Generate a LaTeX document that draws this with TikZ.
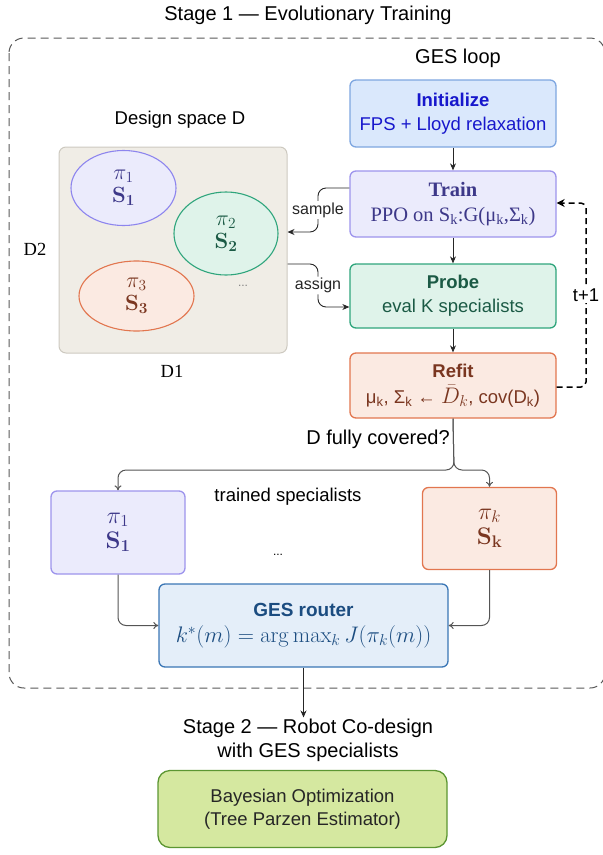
\RequirePackage{fix-cm}
\documentclass[tikz,border=0pt]{standalone}
\usepackage[no-math]{fontspec}
\usepackage{amsmath}
\setmainfont{Liberation Sans}
\newfontfamily\serfont{Liberation Serif}
\usetikzlibrary{arrows.meta,shapes.geometric,calc}

% palette
\definecolor{initfill}{HTML}{DAE8FC}
\definecolor{initdraw}{HTML}{7EA6E0}
\definecolor{inittext}{HTML}{1717CC}
\definecolor{trainfill}{HTML}{EBEBFC}
\definecolor{traindraw}{HTML}{9D94EC}
\definecolor{traintext}{HTML}{3D3889}
\definecolor{probefill}{HTML}{DFF3EA}
\definecolor{probedraw}{HTML}{2FA57C}
\definecolor{probetext}{HTML}{1B5A45}
\definecolor{refitfill}{HTML}{FBEAE2}
\definecolor{refitdraw}{HTML}{E2764F}
\definecolor{refittext}{HTML}{7A3620}
\definecolor{spacefill}{HTML}{F0EDE6}
\definecolor{spacedraw}{HTML}{CDC9C0}
\definecolor{routerfill}{HTML}{E4EEF9}
\definecolor{routerdraw}{HTML}{3A76B5}
\definecolor{routertext}{HTML}{1B4C80}
\definecolor{bayesfill}{HTML}{D5E8A0}
\definecolor{bayesdraw}{HTML}{5C9632}
\definecolor{linegray}{HTML}{555555}

% larger math inside text lines
\newcommand{\bigmath}[1]{{\fontsize{22.5}{24}\selectfont$#1$}}

\tikzset{
    txt/.style={font=\fontsize{18.5}{24}\selectfont, inner sep=1pt},
    title/.style={font=\fontsize{20}{25}\selectfont, align=center, inner sep=1pt},
    small/.style={font=\fontsize{16}{20}\selectfont, fill=white, inner sep=1.5pt},
    box/.style={draw, rounded corners=6pt, line width=1.3pt, minimum width=206pt,
        minimum height=66pt, align=center, font=\fontsize{18.5}{24}\selectfont},
    spec/.style={draw, rounded corners=6pt, line width=1.3pt, minimum width=134pt,
        minimum height=82pt, align=center, font=\fontsize{24}{25}\selectfont},
    blob/.style={ellipse, draw, line width=1.1pt, inner sep=0pt, align=center,
        font=\fontsize{22}{23}\selectfont},
    flow/.style={-{Stealth[length=7pt,width=6pt]}, line width=0.9pt, black!85},
    branch/.style={-{To[length=5pt,width=7pt]}, line width=1pt, linegray, rounded corners=8pt},
}

\begin{document}
\begin{tikzpicture}[x=1pt,y=-1pt]
    \useasboundingbox (0,0) rectangle (603,855);

    % Stage 1 frame
    \node[title] (stageone) at (308,15) {Stage 1 — Evolutionary Training};
    \draw[line width=1pt, black!65, dash pattern=on 8pt off 5pt, rounded corners=15pt]
        (9,38) rectangle (605,688);
    \node[title] (loop) at (458,58) {GES loop};

    % GES loop
    \node[box, fill=initfill, draw=initdraw, text=inittext, minimum height=67pt]
        (init) at (453,113.5) {\textbf{Initialize}\\FPS + Lloyd relaxation};
    \node[box, fill=trainfill, draw=traindraw, text=traintext,
        font=\serfont\fontsize{20.5}{25}\selectfont]
        (train) at (453,204) {\textbf{Train}\\PPO on S\textsubscript{k}:G(μ\textsubscript{k},Σ\textsubscript{k})};
    \node[box, fill=probefill, draw=probedraw, text=probetext, minimum height=64pt]
        (probe) at (453,296) {\textbf{Probe}\\eval K specialists};
    \node[box, fill=refitfill, draw=refitdraw, text=refittext, minimum height=65pt,
        font=\fontsize{18.5}{26}\selectfont]
        (refit) at (453,385.5) {\textbf{Refit}\\μ\textsubscript{k}, Σ\textsubscript{k} ← \smash{\bigmath{\bar{D}_k}}, cov(D\textsubscript{k})};
    \foreach \a/\b in {init/train, train/probe, probe/refit}
        \draw[flow] (\a) -- (\b);

    % loop back
    \draw[line width=1.5pt, dash pattern=on 6pt off 4pt, -{Stealth[length=8pt,width=8pt]}, rounded corners=5pt]
        ([yshift=-1.5pt]refit.east) -- (586,387) -- (586,203)
        node[pos=0.5, small, font=\fontsize{18.5}{22}\selectfont] (tnext) {t+1}
        -- ([yshift=1pt]train.east);

    % Design space
    \node[txt] (spacetitle) at (180,120) {Design space D};
    \node[draw=spacedraw, fill=spacefill, line width=1pt, rounded corners=7pt,
        minimum width=228pt, minimum height=206pt] (space) at (173,250) {};
    \node[txt, font=\serfont\fontsize{18.5}{22}\selectfont] (dtwo) at (35,249) {D2};
    \node[txt, font=\serfont\fontsize{18.5}{22}\selectfont] (done) at (172,371) {D1};
    \node[blob, fill=trainfill, draw=traindraw!90!blue, text=traintext,
        minimum width=105pt, minimum height=75pt] (pione) at (123.5,188) {$\pi_1$\\$\mathbf{S_1}$};
    \node[blob, fill=probefill, draw=probedraw, text=probetext,
        minimum width=104pt, minimum height=83pt] (pitwo) at (226,233.5) {$\pi_2$\\$\mathbf{S_2}$};
    \node[blob, fill=refitfill, draw=refitdraw, text=refittext,
        minimum width=115pt, minimum height=70pt] (pithree) at (136.5,296) {$\pi_3$\\$\mathbf{S_3}$};
    \node[font=\fontsize{12}{14}\selectfont, text=black!50] (moredots) at (243,286) {...};

    % sample / assign
    \draw[flow, rounded corners=8pt] ([yshift=16pt]train.west) -- (318,188) -- (318,232)
        node[pos=0.5, small] (samplelbl) {sample} -- (space.east |- 0,232);
    \draw[flow, rounded corners=8pt] (space.east |- 0,264) -- (318,264) -- (318,307)
        node[pos=0.5, small] (assignlbl) {assign} -- ([yshift=-11pt]probe.west);

    % stopping test and specialists
    \node[txt, font=\fontsize{20}{24}\selectfont] (covered) at (378,439) {D fully covered?};
    \node[spec, fill=trainfill, draw=traindraw, text=traintext, minimum height=83pt]
        (specone) at (118,532.5) {$\pi_1$\\$\mathbf{S_1}$};
    \node[spec, fill=refitfill, draw=refitdraw, text=refittext]
        (speck) at (489.5,528.5) {$\pi_k$\\$\mathbf{S_k}$};
    \node[txt] (trained) at (288,497) {trained specialists};
    \node[font=\fontsize{12}{14}\selectfont] (specdots) at (278,555) {...};
    \draw[branch] (refit.south) -- (454,470) -- (118,470) -- (specone.north);
    \draw[branch] (refit.south) -- (454,470) -- (489.5,470) -- (speck.north);

    % router
    \node[draw=routerdraw, fill=routerfill, text=routertext, line width=1.3pt, rounded corners=6pt,
        minimum width=289pt, minimum height=83pt, align=center, font=\fontsize{19}{26}\selectfont]
        (router) at (303.5,625.5) {\textbf{GES router}\\\bigmath{k^*(m) = \arg\max_k J(\pi_k(m))}};
    \draw[branch] (specone.south) |- (router.west);
    \draw[branch] (speck.south) |- (router.east);

    % Stage 2
    \node[title, font=\fontsize{20}{24}\selectfont] (stagetwo) at (308,740) {Stage 2 — Robot Co-design\\with GES specialists};
    \draw[flow] (router.south) -- (router.south |- stagetwo.north);
    \node[draw=bayesdraw, fill=bayesfill, text=black!85, line width=1.3pt, rounded corners=12pt,
        minimum width=289pt, minimum height=77pt, align=center, font=\fontsize{18.5}{23}\selectfont]
        (bayes) at (302.5,809) {Bayesian Optimization\\(Tree Parzen Estimator)};
\end{tikzpicture}
\end{document}
